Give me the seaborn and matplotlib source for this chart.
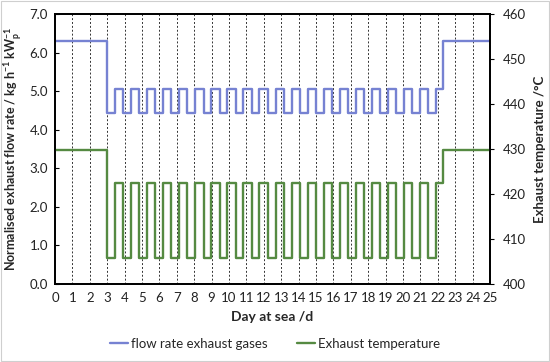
import matplotlib
matplotlib.use("Agg")
import matplotlib.pyplot as plt
import seaborn as sns
import pandas as pd
from matplotlib.patches import Rectangle

# ---- data ----
days = [0.0, 3.00, 3.45, 3.92, 4.37, 4.85, 5.30, 5.77, 6.22, 6.69, 7.14,
        7.61, 8.06, 8.54, 8.99, 9.46, 9.91, 10.38, 10.83, 11.30, 11.75,
        12.23, 12.68, 13.15, 13.60, 14.07, 14.52, 14.99, 15.44, 15.92, 16.37,
        16.84, 17.29, 17.76, 18.21, 18.68, 19.13, 19.61, 20.06, 20.53, 20.98,
        21.45, 21.90, 22.32, 25.0]
flow_rate = [6.30] + [4.44, 5.05] * 21 + [6.30, 6.30]
exhaust_temp = [429.8] + [405.7, 422.4] * 21 + [429.8, 429.8]

x_ticks = list(range(0, 26))
left_ticks = [0, 1, 2, 3, 4, 5, 6, 7]
right_ticks = [400, 410, 420, 430, 440, 450, 460]

df = pd.DataFrame({"day": days, "flow": flow_rate, "temp": exhaust_temp})

sns.set_style("white")
plt.rcParams["font.family"] = ["Lato", "DejaVu Sans"]
plt.rcParams["mathtext.fontset"] = "custom"
plt.rcParams["mathtext.rm"] = "Lato"
plt.rcParams["mathtext.bf"] = "Lato:bold"

blue = "#7682D2"
green = "#558A42"

fig = plt.figure(figsize=(5.5, 3.62), dpi=100)
ax = fig.add_axes([0.1, 0.2155, 0.791, 0.7455])
ax2 = ax.twinx()

sns.lineplot(data=df, x="day", y="flow", ax=ax, color=blue, lw=1.7,
             drawstyle="steps-post", label="flow rate exhaust gases", legend=False)
sns.lineplot(data=df, x="day", y="temp", ax=ax2, color=green, lw=1.7,
             drawstyle="steps-post", label="Exhaust temperature", legend=False)

ax.set_xlim(0, 25)
ax.set_ylim(0, 7)
ax2.set_ylim(400, 460)
ax.set_xticks(x_ticks)
ax.set_xticklabels([str(t) for t in x_ticks])
ax.set_yticks(left_ticks)
ax.set_yticklabels([f"{t:.1f}" for t in left_ticks])
ax2.set_yticks(right_ticks)
ax2.set_yticklabels([str(t) for t in right_ticks])

for d in x_ticks[1:-1]:
    ax.axvline(d, color="#333333", lw=0.7, ls=(0, (2, 2)), zorder=0)

for a in (ax, ax2):
    for s in a.spines.values():
        s.set_color("black")
        s.set_linewidth(1.3)
fs = 9.5
ax.tick_params(axis="x", length=0, labelsize=fs, pad=6, colors="#222222")
ax.tick_params(axis="y", direction="in", length=3, width=0.8, labelsize=fs,
               pad=5, colors="black", labelcolor="#222222", left=True)
ax2.tick_params(axis="y", direction="out", length=3, width=0.8, labelsize=fs,
                pad=6, colors="black", labelcolor="#222222", right=True)

ax.set_xlabel("Day at sea /d", fontsize=10, fontweight="bold", labelpad=5)
ax.set_ylabel(r"Normalised exhaust flow rate / kg h$^{\mathbf{-1}}$ kW$_{\mathbf{p}}^{\mathbf{-1}}$",
              fontsize=9, fontweight="bold", labelpad=4)
ax2.set_ylabel("Exhaust temperature /°C", fontsize=9.5, fontweight="bold", labelpad=6)

h1, l1 = ax.get_legend_handles_labels()
h2, l2 = ax2.get_legend_handles_labels()
fig.legend(h1 + h2, l1 + l2, loc="center", bbox_to_anchor=(0.5, 0.05),
           ncol=2, frameon=False, fontsize=9.5, handlelength=1.4,
           handletextpad=0.2, columnspacing=2.2)

fig.patches.append(Rectangle((0.002, 0.003), 0.996, 0.994, transform=fig.transFigure,
                             fill=False, edgecolor="#cfcfcf", lw=0.8))

fig.savefig("out.png", dpi=100)
